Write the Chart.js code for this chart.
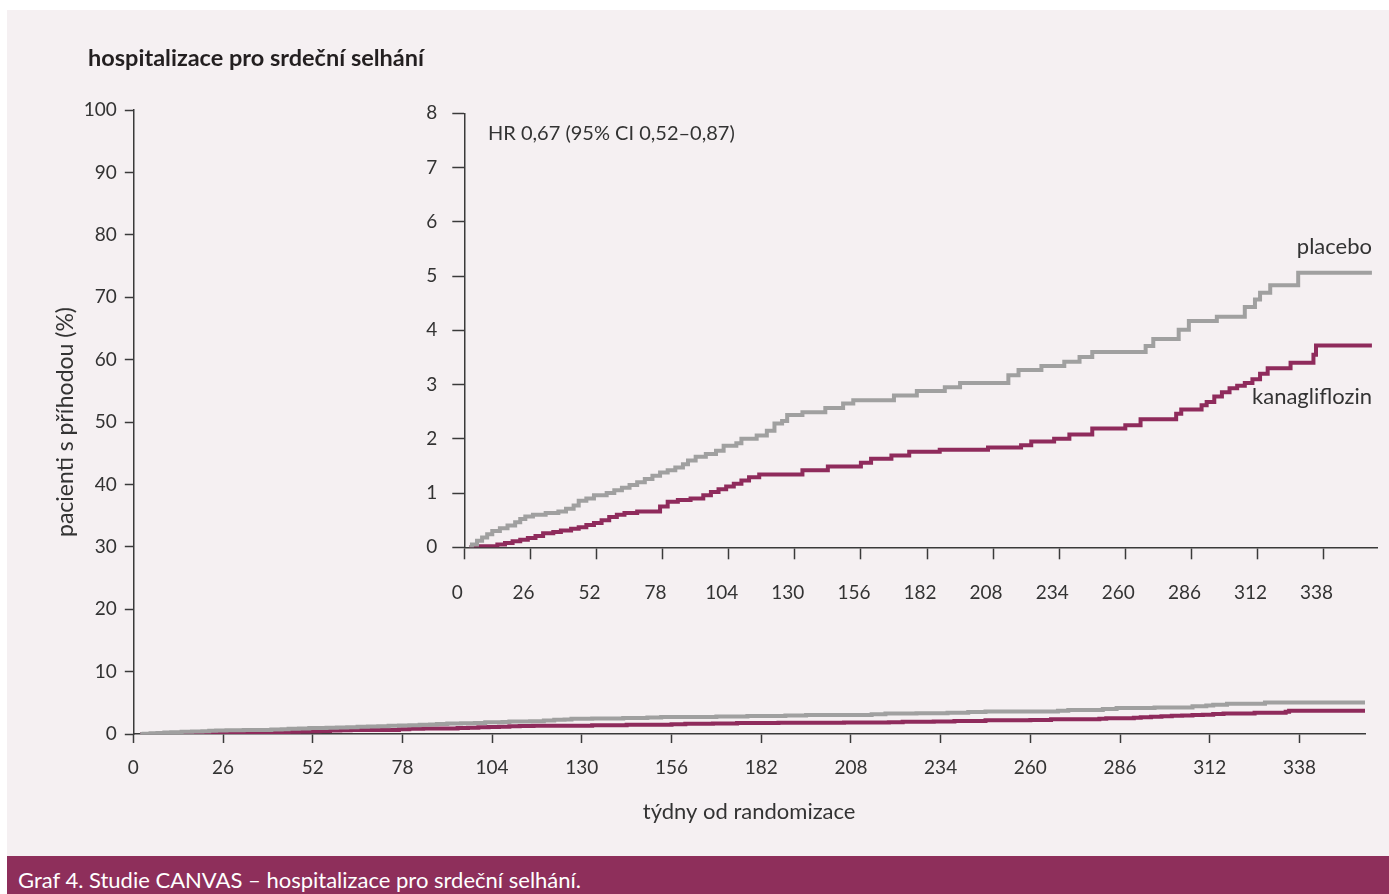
<!DOCTYPE html>
<html lang="cs">
<head>
<meta charset="UTF-8">
<title>hospitalizace pro srdeční selhání</title>
<script src="https://cdn.jsdelivr.net/npm/chart.js@4.4.0/dist/chart.umd.min.js"></script>
<style>
  body { margin: 0; background: #fff; font-family: Lato, sans-serif; }
  #wrap { position: relative; width: 1389px; height: 894px; overflow: hidden; }
  #panel { position: absolute; left: 7px; top: 10px; right: 0; bottom: 0; background: #f5f0f2; }
  #caption { position: absolute; left: 7px; top: 856px; right: 0; bottom: 0; background: #8e2f5b; overflow: hidden;
             color: #fff; font-size: 22px; line-height: 47px; padding-left: 11px; }
  canvas { position: absolute; left: 0; top: 0; }
  .txt { position: absolute; color: #333; white-space: nowrap; transform: translateY(-50%); }
</style>
</head>
<body>
<div id="wrap">
  <div id="panel"></div>
  <canvas id="main" width="1389" height="894"></canvas>
  <canvas id="inset" width="1389" height="894"></canvas>
  <div class="txt" style="left:88px;top:57px;font-weight:bold;font-size:23.5px;color:#231f20">hospitalizace pro srdeční selhání</div>
  <div class="txt" style="left:488px;top:132px;font-size:20px">HR 0,67 (95% CI 0,52–0,87)</div>
  <div class="txt" style="right:17px;top:245px;font-size:22px">placebo</div>
  <div class="txt" style="right:17px;top:395px;font-size:22px">kanagliflozin</div>
  <div id="caption">Graf 4. Studie CANVAS – hospitalizace pro srdeční selhání.</div>
</div>

<script>
// weeks where a new level starts (step curves), values in %
var weeksPlacebo = [2, 3, 5, 7, 9, 11, 14, 17, 20, 22, 24, 27, 32, 37, 40, 43, 45, 48, 51, 56,
  59, 62, 65, 68, 71, 74, 77, 80, 83, 86, 88, 91, 95, 99, 102, 107, 109, 115, 119, 122,
  125, 127, 133, 142, 149, 153, 169, 178, 189, 195, 214, 218, 227, 236, 242, 247, 268, 271,
  281, 285, 296, 307, 311, 313, 317, 328, 357]
var placebo = [0, 0.05, 0.12, 0.18, 0.24, 0.30, 0.35, 0.40, 0.46, 0.52, 0.57, 0.60, 0.63, 0.66, 0.71, 0.77, 0.86, 0.90, 0.96, 1.00,
  1.05, 1.10, 1.15, 1.20, 1.26, 1.32, 1.38, 1.42, 1.47, 1.53, 1.60, 1.67, 1.72, 1.78, 1.87, 1.92, 2.00, 2.06, 2.15, 2.28,
  2.33, 2.44, 2.49, 2.57, 2.65, 2.71, 2.80, 2.88, 2.95, 3.03, 3.17, 3.27, 3.34, 3.42, 3.51, 3.60, 3.71, 3.84,
  4.01, 4.17, 4.25, 4.43, 4.57, 4.69, 4.83, 5.06, 5.06]

var weeksKana = [2, 5, 13, 16, 19, 22, 25, 28, 31, 35, 38, 42, 45, 48, 51, 54, 57, 60, 63, 68,
  77, 80, 84, 89, 94, 97, 100, 103, 106, 109, 112, 116, 133, 143, 156, 160, 168, 175, 187, 206,
  219, 223, 232, 238, 247, 260, 266, 280, 282, 290, 292, 295, 298, 301, 304, 307, 310, 313,
  316, 325, 334, 335, 357]
var kana = [0, 0.02, 0.05, 0.08, 0.11, 0.14, 0.17, 0.21, 0.26, 0.28, 0.31, 0.34, 0.37, 0.41, 0.45, 0.50, 0.56, 0.60, 0.63, 0.66,
  0.75, 0.84, 0.87, 0.90, 0.96, 1.02, 1.07, 1.12, 1.17, 1.23, 1.29, 1.34, 1.42, 1.49, 1.56, 1.63, 1.69, 1.76, 1.80, 1.84,
  1.88, 1.95, 2.00, 2.08, 2.19, 2.25, 2.36, 2.46, 2.54, 2.62, 2.68, 2.78, 2.86, 2.93, 2.98, 3.03, 3.10, 3.20,
  3.30, 3.40, 3.55, 3.72, 3.72]

var xTicks = [0, 26, 52, 78, 104, 130, 156, 182, 208, 234, 260, 286, 312, 338]
var yTicksMain = [0, 10, 20, 30, 40, 50, 60, 70, 80, 90, 100]
var yTicksInset = [0, 1, 2, 3, 4, 5, 6, 7, 8]

var gray = '#a0a0a0'
var purple = '#8f2b5c'
var axisColor = '#3a3a3a'

Chart.defaults.font.family = 'Lato'
Chart.defaults.color = '#333'

function pts(w, v){ return w.map((x, i) => ({x: x, y: v[i]})) }

function series(){
  return [
    {data: pts(weeksPlacebo, placebo), borderColor: gray, borderWidth: 4, stepped: true, pointRadius: 0},
    {data: pts(weeksKana, kana), borderColor: purple, borderWidth: 4, stepped: true, pointRadius: 0}
  ]
}

function axis(ticksArr, tickLen, pad, extra){
  var o = {
    type: 'linear',
    grid: {drawOnChartArea: false, drawTicks: true, tickLength: tickLen, tickColor: axisColor, tickWidth: 1.5},
    border: {display: true, color: axisColor, width: 1.5},
    ticks: {font: {size: 19}, color: '#333', padding: pad, autoSkip: false, maxRotation: 0},
    afterBuildTicks: s => { s.ticks = ticksArr.map(v => ({value: v})) }
  }
  return Object.assign(o, extra)
}

// hlavni graf 0-100 %
var mainX = axis(xTicks, 9, 13, {min: 0, max: 357,
  title: {display: true, text: 'týdny od randomizace', font: {size: 22}, color: '#333', padding: {top: 0, bottom: 9}},
  afterFit: s => { s.height = 100 }})
var mainY = axis(yTicksMain, 8.5, 8, {min: 0, max: 100,
  title: {display: true, text: 'pacienti s příhodou (%)', font: {size: 23}, color: '#333', padding: {top: 8, bottom: 0}},
  afterFit: s => { s.width = 90 }})

new Chart(document.getElementById('main'), {
  type: 'line',
  data: {datasets: series()},
  options: {
    responsive: false, animation: false,
    layout: {padding: {left: 43.3, top: 110, right: 24, bottom: 60}},
    plugins: {legend: {display: false}, tooltip: {enabled: false}},
    scales: {x: mainX, y: mainY}
  }
})

// vlozeny detail 0-8 %
var insX = axis(xTicks, 12, 22, {min: 0, max: 359, afterFit: s => { s.height = 80 }})
insX.ticks.labelOffset = -7
var insY = axis(yTicksInset, 12, 15, {min: 0, max: 8, afterFit: s => { s.width = 100 }})

new Chart(document.getElementById('inset'), {
  type: 'line',
  data: {datasets: series()},
  options: {
    responsive: false, animation: false,
    layout: {padding: {left: 364.3, top: 113.3, right: 12, bottom: 266.7}},
    plugins: {legend: {display: false}, tooltip: {enabled: false}},
    scales: {x: insX, y: insY}
  }
})
</script>
</body>
</html>
